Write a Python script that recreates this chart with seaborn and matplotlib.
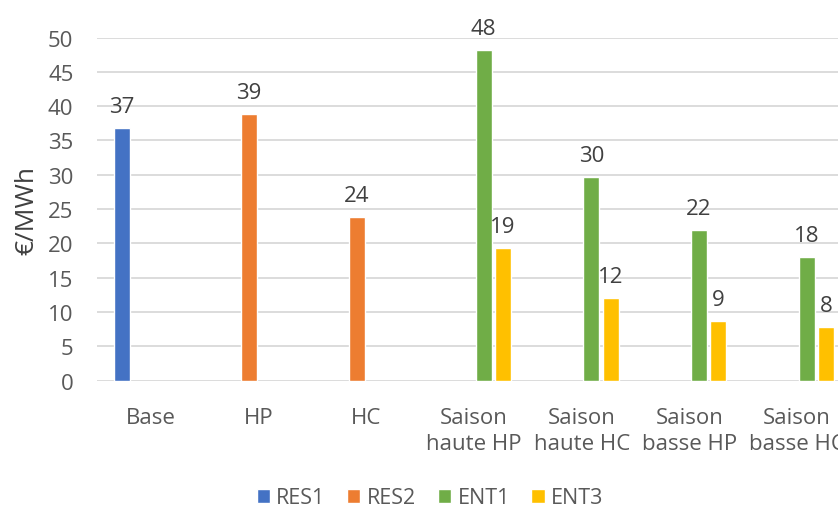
import pandas as pd
import matplotlib
matplotlib.use("Agg")
import matplotlib.pyplot as plt
from matplotlib.patches import Patch
import seaborn as sns

# Prix par option tarifaire (€/MWh)
categories = ["Base", "HP", "HC", "Saison\nhaute HP", "Saison\nhaute HC",
              "Saison\nbasse HP", "Saison\nbasse HC"]
series = ["RES1", "RES2", "ENT1", "ENT3"]
res1 = [36.8, None, None, None, None, None, None]
res2 = [None, 38.9, 23.9, None, None, None, None]
ent1 = [None, None, None, 48.2, 29.7, 21.9, 18.0]
ent3 = [None, None, None, 19.3, 12.0, 8.7, 7.8]
colors = ["#4472C4", "#ED7D31", "#70AD47", "#FFC000"]
yticks = list(range(0, 55, 5))

rows = []
for name, vals in zip(series, [res1, res2, ent1, ent3]):
    for cat, v in zip(categories, vals):
        if v is not None:
            rows.append({"categorie": cat, "serie": name, "valeur": v})
df = pd.DataFrame(rows)

sns.set_style("white")
plt.rcParams["font.family"] = ["Open Sans", "DejaVu Sans"]

W, H = 838, 510
fig = plt.figure(figsize=(W / 100, H / 100), dpi=100)
ax = fig.add_axes([97 / W, 128.3 / H, (851 - 97) / W, (471.5 - 128.3) / H])

sns.barplot(data=df, x="categorie", y="valeur", hue="serie",
            order=categories, hue_order=series, palette=colors,
            width=0.717, gap=0.17, errorbar=None, saturation=1,
            legend=False, ax=ax)

for cont in ax.containers:
    ax.bar_label(cont, fmt="%.0f", padding=8, fontsize=16, color="#404040")

ax.set_ylim(0, 50)
ax.set_yticks(yticks)
ax.set_xlim(-0.5, len(categories) - 0.5)
for s in ax.spines.values():
    s.set_visible(False)
ax.yaxis.grid(True, color="#d9d9d9", lw=1.3)
ax.set_axisbelow(True)
ax.tick_params(axis="both", length=0, labelsize=16, labelcolor="#595959")
ax.tick_params(axis="y", pad=17)
ax.tick_params(axis="x", pad=19)
for t in ax.get_xticklabels():
    t.set_linespacing(1.3)

ax.set_xlabel("")
ax.set_ylabel("€/MWh", fontsize=19, color="#404040")
ax.yaxis.set_label_coords(-0.077, 0.5)

handles = [Patch(facecolor=c, label=s) for c, s in zip(colors, series)]
fig.legend(handles=handles, loc="center", bbox_to_anchor=(430 / W, 1 - 499 / H),
           ncol=4, frameon=False, fontsize=15.5, handlelength=0.62, handleheight=0.62,
           handletextpad=0.3, columnspacing=1.0, labelcolor="#595959")

fig.savefig("out.png", dpi=100)
